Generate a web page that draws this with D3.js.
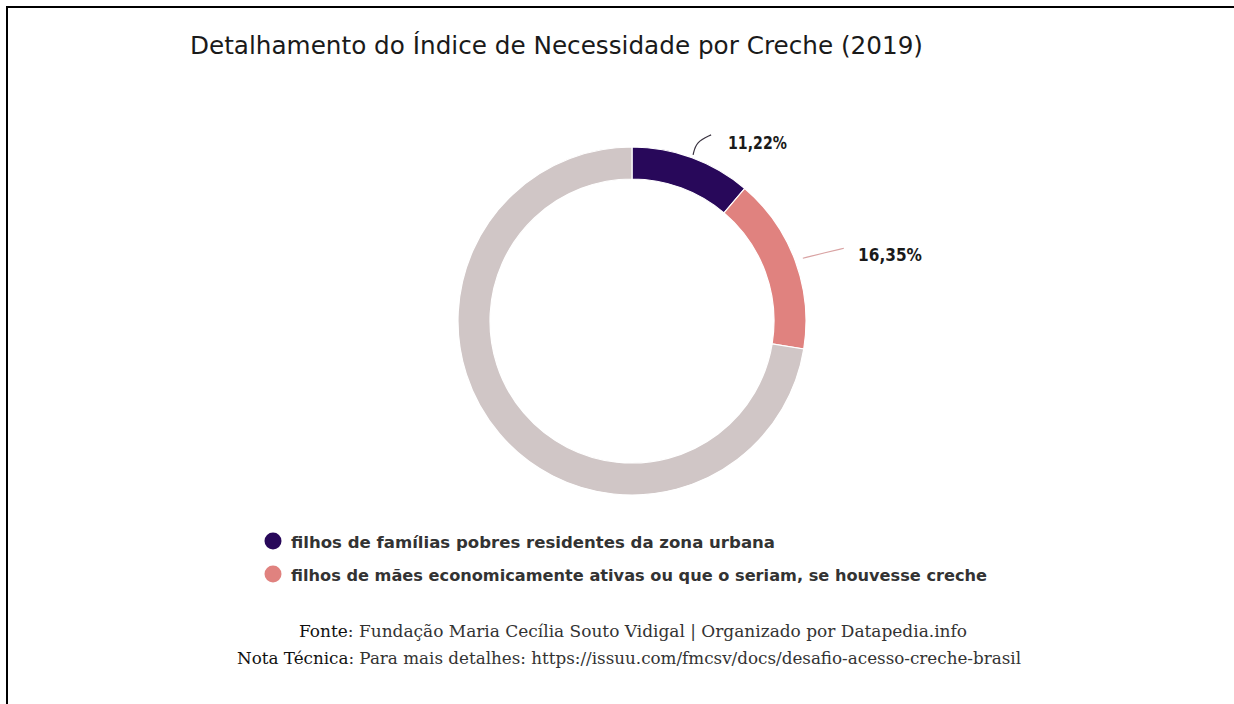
<!DOCTYPE html>
<html>
<head>
<meta charset="utf-8">
<script src="https://cdn.jsdelivr.net/npm/d3@7"></script>
<style>
  body { margin: 0; background: #fff; }
</style>
</head>
<body>
<div id="chart"></div>
<script>
// data
var categories = ["filhos de famílias pobres residentes da zona urbana",
                  "filhos de mães economicamente ativas ou que o seriam, se houvesse creche",
                  "restante"];
var values = [11.22, 16.35, 72.43];
var labels = ["11,22%", "16,35%", null];
var colors = ["#28085a", "#e0827f", "#d0c6c6"];
var legendItems = [0, 1];

var width = 1234, height = 704;
var cx = 632, cy = 321, rOuter = 174, rInner = 142;

var svg = d3.select("#chart").append("svg")
    .attr("width", width)
    .attr("height", height);

// frame
svg.append("path")
    .attr("d", "M7," + height + " V7 H" + width)
    .attr("fill", "none")
    .attr("stroke", "#000")
    .attr("stroke-width", 2);

// title
svg.append("text")
    .attr("x", 190)
    .attr("y", 54)
    .attr("textLength", 733)
    .attr("lengthAdjust", "spacingAndGlyphs")
    .style("font-family", "'DejaVu Sans', sans-serif")
    .style("font-size", "25px")
    .style("fill", "#1a1a1a")
    .text("Detalhamento do Índice de Necessidade por Creche (2019)");

var pie = d3.pie().sort(null).value(function(d){ return d; });
var arcs = pie(values);
var arc = d3.arc().innerRadius(rInner).outerRadius(rOuter);

var g = svg.append("g").attr("transform", "translate(" + cx + "," + cy + ")");

g.selectAll("path.slice")
    .data(arcs)
    .enter()
    .append("path")
    .attr("class", "slice")
    .attr("d", arc)
    .attr("fill", function(d, i){ return colors[i]; })
    .attr("stroke", "#fff")
    .attr("stroke-width", 1.2);

// leader lines + labels
var lineColors = ["#3a3340", "#d9a3a3"];
arcs.forEach(function(d, i){
    if (!labels[i]) return;
    var a = (d.startAngle + d.endAngle) / 2;
    var r = i == 0 ? rOuter + 3 : rOuter + 8;
    var p0 = [Math.sin(a) * r, -Math.cos(a) * r];
    var p1, p2, tx, ty;
    if (i == 0) {
        p1 = [p0[0] + 3, p0[1] - 13];
        p2 = [p0[0] + 18, p0[1] - 20];
        tx = 728 - cx; ty = 149 - cy;
    } else {
        p1 = [p0[0] + 20, p0[1] - 5];
        p2 = [p0[0] + 41, p0[1] - 10];
        tx = 858 - cx; ty = 261 - cy;
    }
    g.append("path")
        .attr("d", d3.line().curve(d3.curveBasis)([p0, p1, p2]))
        .attr("fill", "none")
        .attr("stroke", lineColors[i])
        .attr("stroke-width", 1.2);
    g.append("text")
        .attr("x", tx)
        .attr("y", ty)
        .attr("textLength", i == 0 ? 59 : 64)
        .attr("lengthAdjust", "spacingAndGlyphs")
        .style("font-family", "'DejaVu Sans', sans-serif")
        .style("font-weight", "bold")
        .style("font-size", "17px")
        .style("fill", "#1a1a1a")
        .text(labels[i]);
});

// legend
var legendLen = [484, 696];
var legend = svg.append("g").attr("transform", "translate(273, 541)");
legendItems.forEach(function(i, k){
    legend.append("circle")
        .attr("cx", 0)
        .attr("cy", k * 33)
        .attr("r", 8.5)
        .attr("fill", colors[i]);
    legend.append("text")
        .attr("x", 18)
        .attr("y", k * 33 + 6.5)
        .attr("textLength", legendLen[k])
        .attr("lengthAdjust", "spacingAndGlyphs")
        .style("font-family", "'DejaVu Sans', sans-serif")
        .style("font-weight", "bold")
        .style("font-size", "16px")
        .style("fill", "#333")
        .text(categories[i]);
});

// footer
var foot = [["Fonte", ": Fundação Maria Cecília Souto Vidigal | Organizado por Datapedia.info"],
            ["Nota Técnica", ": Para mais detalhes: https://issuu.com/fmcsv/docs/desafio-acesso-creche-brasil"]];
var footX = [299, 237], footLen = [668, 784];
foot.forEach(function(f, k){
    var t = svg.append("text")
        .attr("x", footX[k])
        .attr("y", 637 + k * 27)
        .attr("textLength", footLen[k])
        .attr("lengthAdjust", "spacingAndGlyphs")
        .style("font-family", "'DejaVu Serif', serif")
        .style("font-size", "16px")
        .style("fill", "#333");
    t.append("tspan").style("fill", "#111").text(f[0]);
    t.append("tspan").text(f[1]);
});
</script>
</body>
</html>
